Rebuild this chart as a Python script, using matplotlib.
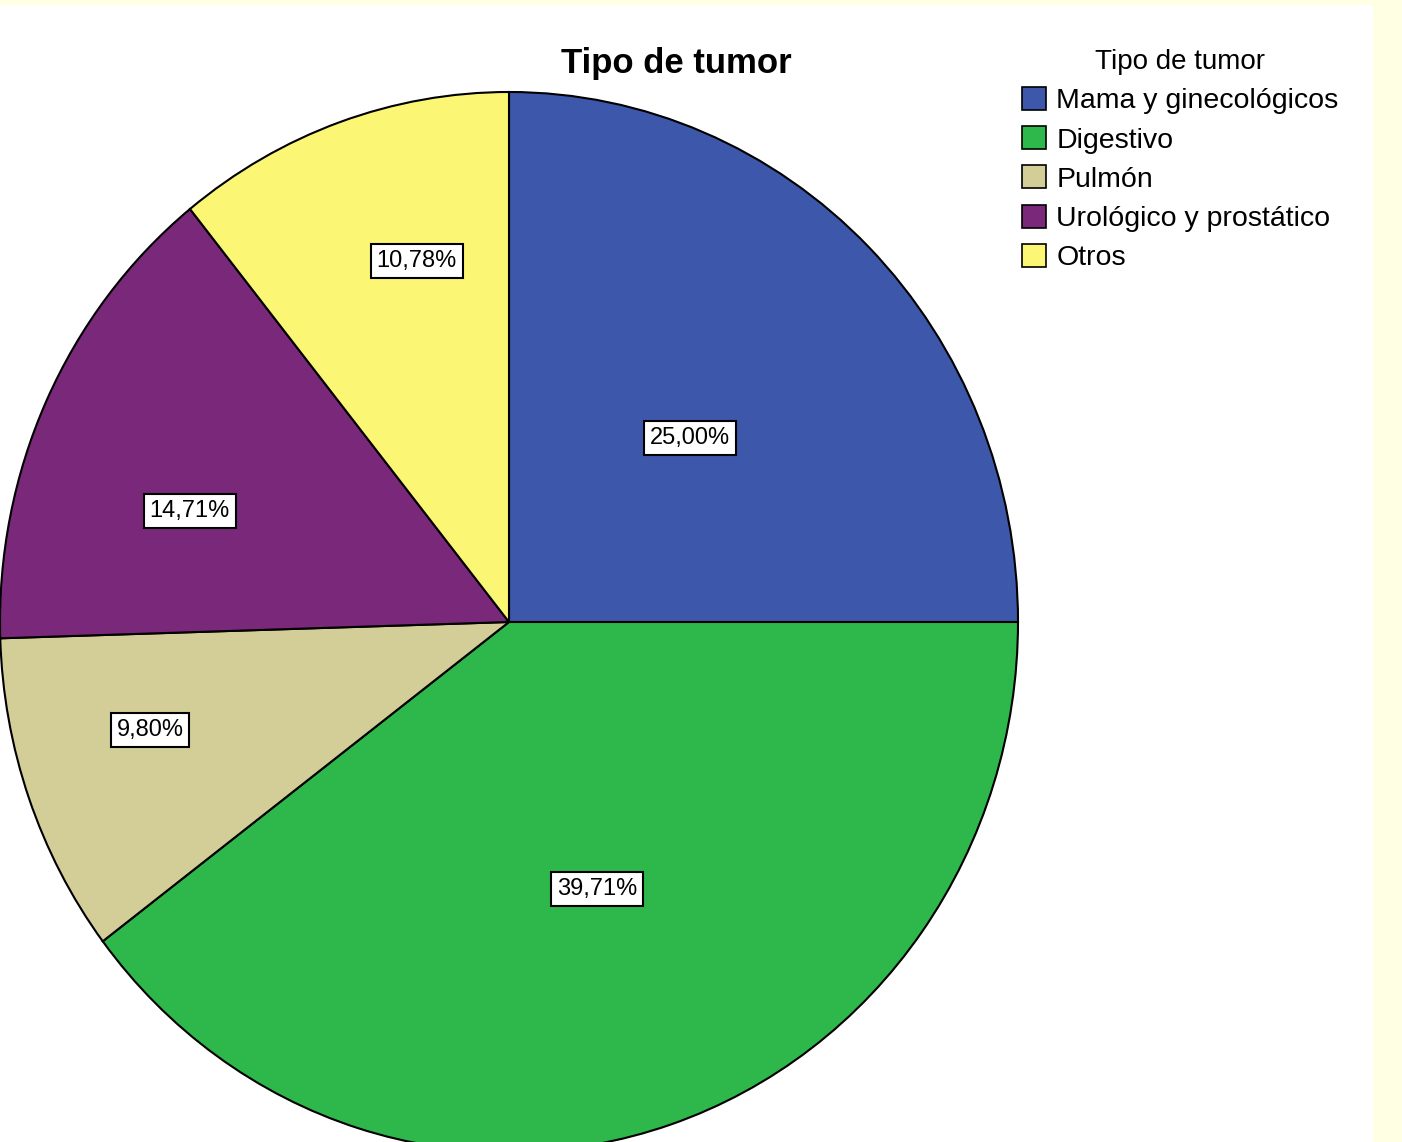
import matplotlib
matplotlib.use("Agg")
import matplotlib.pyplot as plt
from matplotlib.patches import Rectangle, Patch
import numpy as np

categories = ["Mama y ginecológicos", "Digestivo", "Pulmón", "Urológico y prostático", "Otros"]
values = [25.00, 39.71, 9.80, 14.71, 10.78]
pct_labels = ["25,00%", "39,71%", "9,80%", "14,71%", "10,78%"]
colors = ["#3D58AB", "#2EB74A", "#D3CE97", "#7A287A", "#FBF774"]
label_dist = [0.497, 0.533, 0.734, 0.661, 0.705]
label_shift = [-0.7, 0.45, -3.3, 6.3, -4.5]

W, H = 1402, 1142
fig = plt.figure(figsize=(W / 100, H / 100), dpi=100)
fig.patch.set_facecolor("#FFFFE3")
fig.patches.append(Rectangle((0, 0), 1373 / W, (H - 5) / H, transform=fig.transFigure,
                             facecolor="white", edgecolor="none", zorder=-10))

cx, cy, rx, ry = 509, 622, 509, 530
ax = fig.add_axes([(cx - rx) / W, (H - cy - ry) / H, 2 * rx / W, 2 * ry / H])
ax.set_zorder(1)
ax.set_facecolor("none")
wedges, _ = ax.pie(values, colors=colors, startangle=90, counterclock=False,
                   wedgeprops=dict(edgecolor="black", linewidth=1.5))
ax.set_aspect("auto")
ax.set_xlim(-1, 1)
ax.set_ylim(-1, 1)
ax.axis("off")

font = "Liberation Sans"
for w, lab, d, s in zip(wedges, pct_labels, label_dist, label_shift):
    ang = np.deg2rad((w.theta1 + w.theta2) / 2 + s)
    ax.text(d * np.cos(ang), d * np.sin(ang), lab, ha="center", va="center",
            fontsize=17, family=font,
            bbox=dict(boxstyle="square,pad=0.25", facecolor="white", edgecolor="black", linewidth=1.5))

fig.text(676 / W, 1 - 64 / H, "Tipo de tumor", ha="center", va="center",
         fontsize=25, fontweight="bold", family=font)

handles = [Patch(facecolor=c, edgecolor="black", linewidth=1.2) for c in colors]
leg = fig.legend(handles, categories, loc="upper left",
                 bbox_to_anchor=(1022 / W, 1 - 49 / H), frameon=False,
                 title="Tipo de tumor", prop=dict(family=font, size=20.5),
                 title_fontproperties=dict(family=font, size=20),
                 handlelength=0.86, handleheight=0.86, handletextpad=0.35,
                 labelspacing=0.42, borderaxespad=0, borderpad=0)
fig.savefig("out.png", dpi=100, facecolor=fig.get_facecolor())
